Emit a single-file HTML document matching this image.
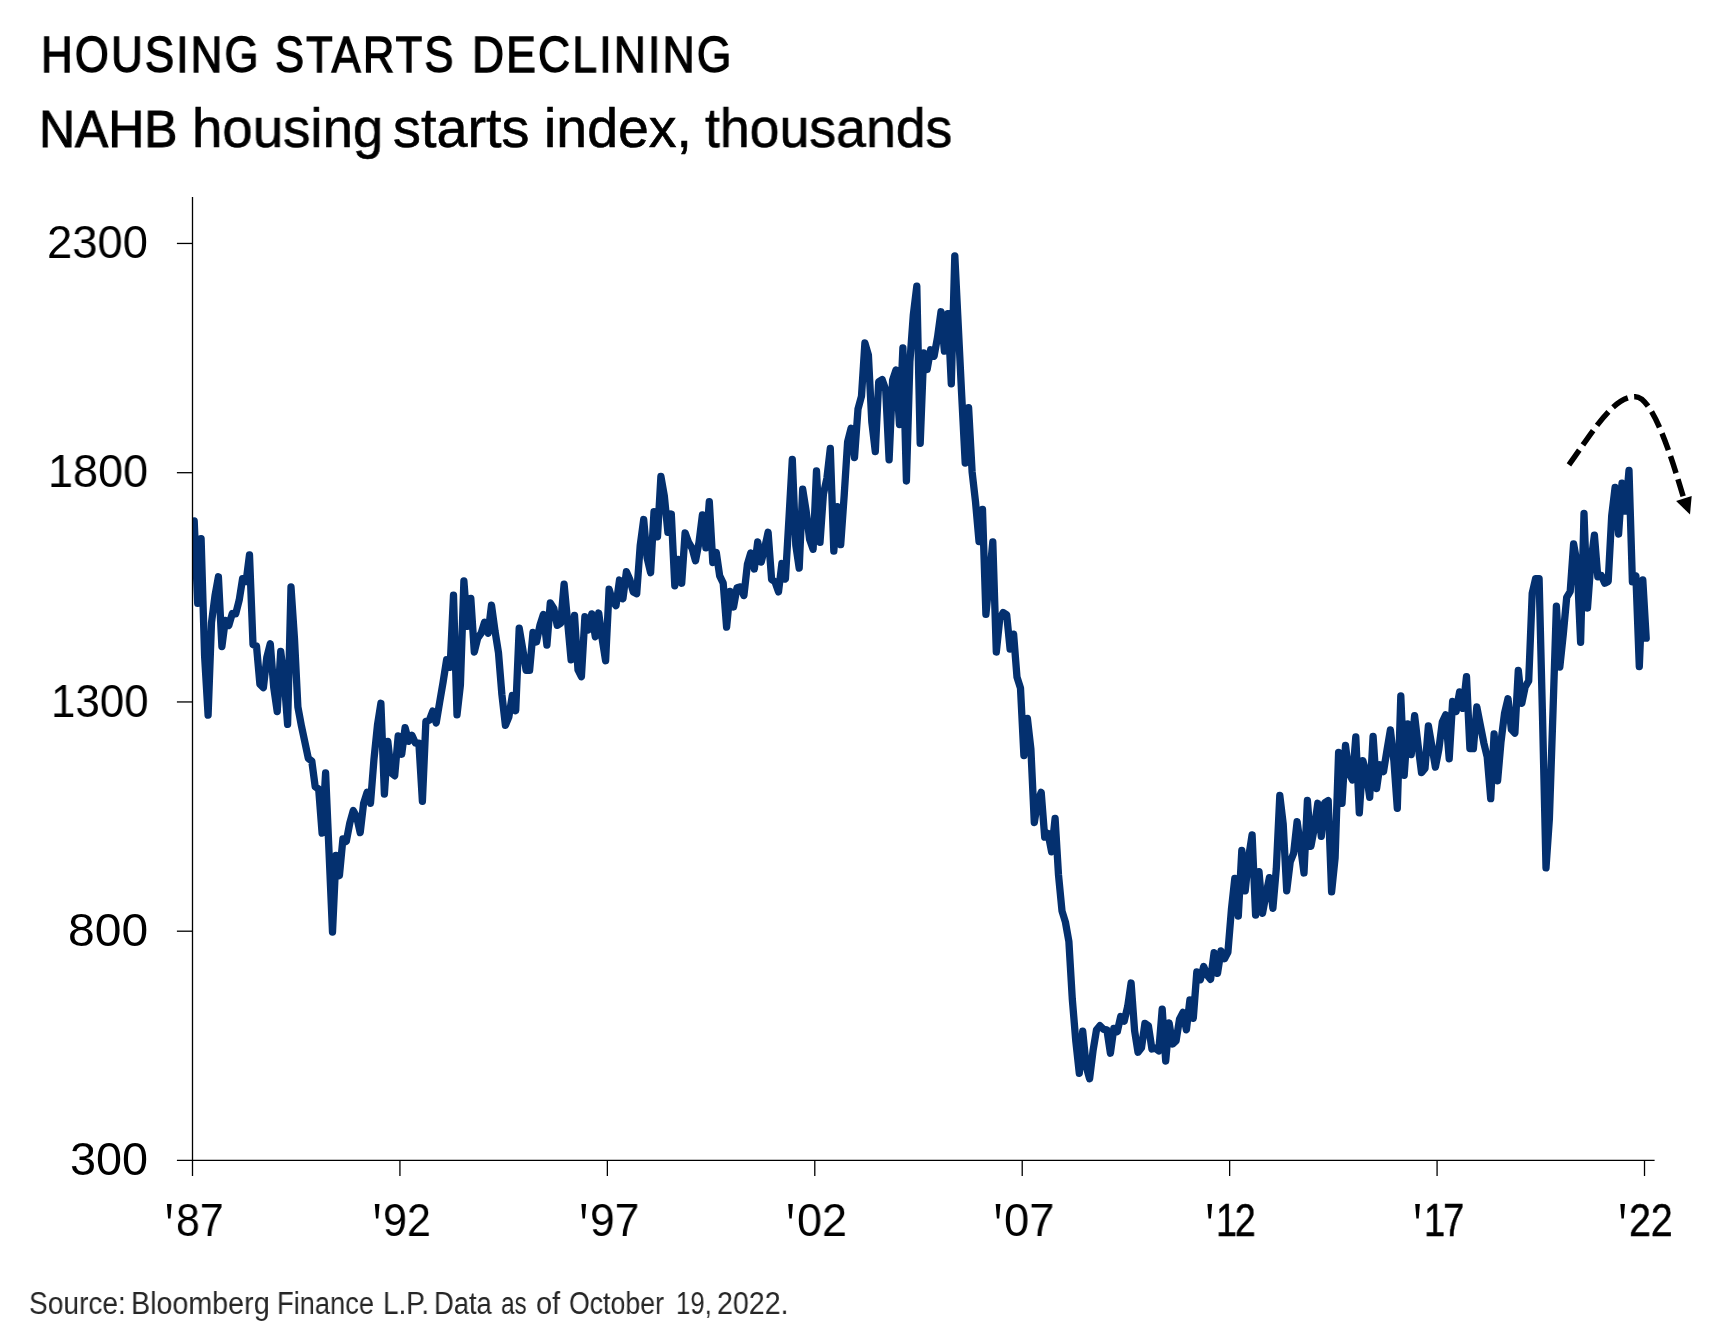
<!DOCTYPE html>
<html><head><meta charset="utf-8"><title>Housing Starts Declining</title>
<style>
html,body{margin:0;padding:0;background:#fff;}
body{width:1728px;height:1344px;position:relative;overflow:hidden;font-family:"Liberation Sans",sans-serif;}
.t{position:absolute;white-space:nowrap;line-height:1;transform-origin:0 0;will-change:transform;font-family:"Liberation Sans",sans-serif;}
svg{position:absolute;left:0;top:0;}
</style></head><body>
<svg width="1728" height="1344" viewBox="0 0 1728 1344">
<defs><clipPath id="plot"><rect x="192.5" y="190" width="1500" height="975"/></clipPath></defs>
<polyline clip-path="url(#plot)" points="194.2,520.8 197.7,603.4 201.1,538.7 204.6,656.1 208.1,715.2 211.5,622.6 215.0,595.6 218.4,576.8 221.9,646.5 225.3,620.3 228.8,625.4 232.3,613.5 235.7,613.9 239.2,600.2 242.6,578.6 246.1,581.4 249.5,554.8 253.0,644.6 256.5,646.0 259.9,684.1 263.4,687.7 266.8,657.5 270.3,643.7 273.7,687.3 277.2,711.6 280.7,651.5 284.1,678.6 287.6,724.4 291.0,586.9 294.5,639.1 297.9,707.0 301.4,725.8 304.9,742.3 308.3,758.3 311.8,761.1 315.2,786.8 318.7,789.1 322.1,833.1 325.6,773.0 329.1,853.7 332.5,932.1 336.0,855.5 339.4,875.7 342.9,839.0 346.3,841.3 349.8,823.0 353.3,810.6 356.7,817.0 360.2,832.6 363.6,803.3 367.1,792.3 370.5,803.3 374.0,758.8 377.5,724.9 380.9,703.3 384.4,794.1 387.8,741.4 391.3,773.0 394.7,775.8 398.2,735.9 401.7,754.2 405.1,727.6 408.6,741.4 412.0,735.4 415.5,743.2 418.9,743.2 422.4,801.4 425.9,721.2 429.3,720.3 432.8,711.1 436.2,723.0 439.7,702.0 443.1,682.2 446.6,659.8 450.1,667.1 453.5,595.1 457.0,714.8 460.4,685.0 463.9,580.9 467.3,626.3 470.8,598.3 474.3,652.0 477.7,638.2 481.2,633.2 484.6,622.2 488.1,633.2 491.5,605.2 495.0,630.9 498.5,652.9 501.9,694.6 505.4,725.3 508.8,717.1 512.3,695.5 515.7,710.7 519.2,628.1 522.7,648.8 526.1,670.3 529.6,670.3 533.0,632.3 536.5,641.9 539.9,625.4 543.4,614.4 546.9,645.1 550.3,602.9 553.8,608.4 557.2,625.4 560.7,623.1 564.1,584.1 567.6,621.7 571.1,659.8 574.5,615.3 578.0,669.9 581.4,676.7 584.9,616.7 588.3,630.0 591.8,613.9 595.3,636.8 598.7,613.0 602.2,639.1 605.6,660.7 609.1,589.2 612.5,601.1 616.0,605.7 619.5,580.0 622.9,598.8 626.4,571.7 629.8,579.5 633.3,591.9 636.7,593.7 640.2,545.6 643.7,519.5 647.1,558.0 650.6,572.7 654.0,511.7 657.5,536.9 660.9,476.4 664.4,496.5 667.9,532.3 671.3,514.0 674.8,585.9 678.2,559.4 681.7,583.2 685.1,532.8 688.6,542.4 692.1,548.4 695.5,560.7 699.0,542.4 702.4,514.9 705.9,547.9 709.3,501.6 712.8,562.6 716.3,552.5 719.7,575.9 723.2,583.2 726.6,627.2 730.1,591.5 733.5,607.0 737.0,587.8 740.5,586.9 743.9,595.6 747.4,564.4 750.8,552.9 754.3,569.0 757.7,541.9 761.2,562.1 764.7,547.9 768.1,532.3 771.6,579.5 775.0,581.8 778.5,591.9 781.9,563.5 785.4,579.1 788.9,519.5 792.3,459.4 795.8,545.1 799.2,568.1 802.7,489.2 806.1,510.8 809.6,539.2 813.1,549.3 816.5,470.9 820.0,542.4 823.4,494.2 826.9,478.2 830.3,448.4 833.8,551.1 837.3,506.6 840.7,544.7 844.2,495.2 847.6,442.0 851.1,428.2 854.5,457.6 858.0,409.0 861.5,396.1 864.9,342.9 868.4,354.9 871.8,421.8 875.3,451.6 878.7,381.9 882.2,379.6 885.7,389.7 889.1,459.9 892.6,380.1 896.0,370.0 899.5,424.6 902.9,348.0 906.4,481.0 909.9,361.7 913.3,315.0 916.8,286.1 920.2,443.4 923.7,353.0 927.1,369.5 930.6,349.8 934.1,356.2 937.5,337.4 941.0,311.8 944.4,351.2 947.9,313.6 951.3,383.8 954.8,255.8 958.3,326.4 961.7,395.2 965.2,463.1 968.6,407.6 972.1,471.8 975.5,501.6 979.0,541.5 982.5,509.4 985.9,614.4 989.4,578.2 992.8,541.9 996.3,652.0 999.7,619.4 1003.2,612.5 1006.7,614.8 1010.1,649.2 1013.6,634.1 1017.0,677.2 1020.5,688.2 1023.9,755.6 1027.4,718.5 1030.9,749.2 1034.3,822.5 1037.8,801.0 1041.2,792.3 1044.7,837.2 1048.1,833.5 1051.6,851.9 1055.1,818.4 1058.5,874.8 1062.0,911.0 1065.4,922.0 1068.9,941.7 1072.3,999.1 1075.8,1041.2 1079.3,1073.3 1082.7,1031.2 1086.2,1066.5 1089.6,1078.8 1093.1,1050.4 1096.5,1029.8 1100.0,1025.7 1103.5,1029.3 1106.9,1029.8 1110.4,1053.2 1113.8,1028.4 1117.3,1031.6 1120.7,1016.5 1124.2,1021.1 1127.7,1006.4 1131.1,983.0 1134.6,1030.7 1138.0,1052.2 1141.5,1047.7 1144.9,1023.4 1148.4,1025.7 1151.9,1049.0 1155.3,1048.1 1158.8,1050.9 1162.2,1009.1 1165.7,1061.0 1169.1,1022.9 1172.6,1044.0 1176.1,1040.8 1179.5,1019.2 1183.0,1012.4 1186.4,1029.8 1189.9,1000.0 1193.3,1018.3 1196.8,972.0 1200.3,979.8 1203.7,966.5 1207.2,975.2 1210.6,979.3 1214.1,952.7 1217.5,973.4 1221.0,950.9 1224.5,958.7 1227.9,952.3 1231.4,909.7 1234.8,878.5 1238.3,916.1 1241.8,850.5 1245.2,890.9 1248.7,856.9 1252.1,834.9 1255.6,915.2 1259.0,871.6 1262.5,913.3 1266.0,894.5 1269.4,877.6 1272.9,908.3 1276.3,868.8 1279.8,795.5 1283.2,823.9 1286.7,890.9 1290.2,862.0 1293.6,853.3 1297.1,821.6 1300.5,845.9 1304.0,873.0 1307.4,800.5 1310.9,846.4 1314.4,827.6 1317.8,803.3 1321.3,836.3 1324.7,802.8 1328.2,800.5 1331.6,891.8 1335.1,857.8 1338.6,752.4 1342.0,803.3 1345.5,745.5 1348.9,772.6 1352.4,779.9 1355.8,736.8 1359.3,812.9 1362.8,760.6 1366.2,772.6 1369.7,797.3 1373.1,736.3 1376.6,788.6 1380.0,764.8 1383.5,771.6 1387.0,750.1 1390.4,729.9 1393.9,761.1 1397.3,808.3 1400.8,696.0 1404.2,775.3 1407.7,724.0 1411.2,754.7 1414.6,715.7 1418.1,745.5 1421.5,772.6 1425.0,768.4 1428.4,725.8 1431.9,746.4 1435.4,767.1 1438.8,749.6 1442.3,722.1 1445.7,714.8 1449.2,758.8 1452.6,701.5 1456.1,711.6 1459.6,691.9 1463.0,708.4 1466.5,676.7 1469.9,748.7 1473.4,748.7 1476.8,707.0 1480.3,724.9 1483.8,742.8 1487.2,757.0 1490.7,798.7 1494.1,734.0 1497.6,780.8 1501.0,741.8 1504.5,713.4 1508.0,698.7 1511.4,729.5 1514.9,733.1 1518.3,670.3 1521.8,703.3 1525.2,686.8 1528.7,680.9 1532.2,593.3 1535.6,578.6 1539.1,578.6 1542.5,716.2 1546.0,867.9 1549.4,818.4 1552.9,714.3 1556.4,606.1 1559.8,667.1 1563.3,634.1 1566.7,597.4 1570.2,591.5 1573.6,543.8 1577.1,563.5 1580.6,642.3 1584.0,513.5 1587.5,608.0 1590.9,562.1 1594.4,535.1 1597.8,576.8 1601.3,575.4 1604.8,583.2 1608.2,581.4 1611.7,515.8 1615.1,487.4 1618.6,534.1 1622.0,483.2 1625.5,511.2 1629.0,470.4 1632.4,581.8 1635.9,575.9 1639.3,666.6 1642.8,580.0 1646.2,638.2" fill="none" stroke="#04306f" stroke-width="7.3" stroke-linejoin="round" stroke-linecap="round"/>
<line x1="192.50" y1="197" x2="192.50" y2="1176" stroke="#000" stroke-width="1.3"/>
<line x1="176.9" y1="1160.45" x2="1654.6" y2="1160.45" stroke="#000" stroke-width="1.3"/>
<line x1="176.9" y1="243.45" x2="192.50" y2="243.45" stroke="#000" stroke-width="1.3"/>
<line x1="176.9" y1="472.70" x2="192.50" y2="472.70" stroke="#000" stroke-width="1.3"/>
<line x1="176.9" y1="701.95" x2="192.50" y2="701.95" stroke="#000" stroke-width="1.3"/>
<line x1="176.9" y1="931.20" x2="192.50" y2="931.20" stroke="#000" stroke-width="1.3"/>
<line x1="399.93" y1="1160.45" x2="399.93" y2="1176" stroke="#000" stroke-width="1.3"/>
<line x1="607.36" y1="1160.45" x2="607.36" y2="1176" stroke="#000" stroke-width="1.3"/>
<line x1="814.79" y1="1160.45" x2="814.79" y2="1176" stroke="#000" stroke-width="1.3"/>
<line x1="1022.22" y1="1160.45" x2="1022.22" y2="1176" stroke="#000" stroke-width="1.3"/>
<line x1="1229.65" y1="1160.45" x2="1229.65" y2="1176" stroke="#000" stroke-width="1.3"/>
<line x1="1437.08" y1="1160.45" x2="1437.08" y2="1176" stroke="#000" stroke-width="1.3"/>
<line x1="1644.51" y1="1160.45" x2="1644.51" y2="1176" stroke="#000" stroke-width="1.3"/>
<polygon points="166.9,1204 171.6,1204 170.4,1218.4 168.1,1218.4" fill="#000"/>
<polygon points="374.8,1204 379.5,1204 378.3,1218.4 376.0,1218.4" fill="#000"/>
<polygon points="581.4,1204 586.1,1204 584.9,1218.4 582.6,1218.4" fill="#000"/>
<polygon points="788.2,1204 792.9,1204 791.7,1218.4 789.4,1218.4" fill="#000"/>
<polygon points="995.7,1204 1000.4,1204 999.2,1218.4 996.9,1218.4" fill="#000"/>
<polygon points="1207.4,1204 1212.1,1204 1210.9,1218.4 1208.6,1218.4" fill="#000"/>
<polygon points="1415.2,1204 1419.9,1204 1418.7,1218.4 1416.4,1218.4" fill="#000"/>
<polygon points="1620.3,1204 1625.0,1204 1623.8,1218.4 1621.5,1218.4" fill="#000"/>
<path d="M1568.95,464.8 C1593,431.5 1612.7,396.7 1635.4,396.7 C1655.9,396.7 1678.9,483.8 1683.9,498.6" fill="none" stroke="#000" stroke-width="5.5" stroke-dasharray="17.7 6.45"/>
<polygon points="1676.1,501.1 1691.7,496.1 1690,514.5" fill="#000"/>
</svg>
<div class="t" style="left:40.69px;top:30.12px;font-size:50.3px;transform:scaleX(0.8713);letter-spacing:2.5px;color:#000;-webkit-text-stroke:1.3px #000;">HOUSING</div>
<div class="t" style="left:275.07px;top:30.12px;font-size:50.3px;transform:scaleX(0.865);letter-spacing:2.5px;color:#000;-webkit-text-stroke:1.3px #000;">STARTS</div>
<div class="t" style="left:472.15px;top:30.12px;font-size:50.3px;transform:scaleX(0.8823);letter-spacing:2.5px;color:#000;-webkit-text-stroke:1.3px #000;">DECLINING</div>
<div class="t" style="left:39.47px;top:103.28px;font-size:52px;transform:scaleX(0.9587);letter-spacing:0px;color:#000;-webkit-text-stroke:1px #000;">NAHB</div>
<div class="t" style="left:191.92px;top:100.94px;font-size:55px;transform:scaleX(0.993);letter-spacing:0px;color:#000;-webkit-text-stroke:0.6px #000;">housing</div>
<div class="t" style="left:393.49px;top:100.94px;font-size:55px;transform:scaleX(1.0144);letter-spacing:0px;color:#000;-webkit-text-stroke:0.6px #000;">starts</div>
<div class="t" style="left:543.58px;top:100.94px;font-size:55px;transform:scaleX(1.0079);letter-spacing:0px;color:#000;-webkit-text-stroke:0.6px #000;">index,</div>
<div class="t" style="left:704.9px;top:100.94px;font-size:55px;transform:scaleX(0.9746);letter-spacing:0px;color:#000;-webkit-text-stroke:0.6px #000;">thousands</div>
<div class="t" style="left:47.22px;top:219.93px;font-size:45.8px;transform:scaleX(0.9898);letter-spacing:0px;color:#000;">2300</div>
<div class="t" style="left:48.26px;top:449.23px;font-size:45.8px;transform:scaleX(0.9814);letter-spacing:0px;color:#000;">1800</div>
<div class="t" style="left:50.53px;top:678.63px;font-size:45.8px;transform:scaleX(0.9567);letter-spacing:0px;color:#000;">1300</div>
<div class="t" style="left:67.6px;top:907.83px;font-size:45.8px;transform:scaleX(1.0479);letter-spacing:0px;color:#000;">800</div>
<div class="t" style="left:69.76px;top:1136.63px;font-size:45.8px;transform:scaleX(1.0219);letter-spacing:0px;color:#000;">300</div>
<div class="t" style="left:175.83px;top:1198.43px;font-size:45.8px;transform:scaleX(0.934);letter-spacing:0px;color:#000;">87</div>
<div class="t" style="left:383.32px;top:1198.43px;font-size:45.8px;transform:scaleX(0.9404);letter-spacing:0px;color:#000;">92</div>
<div class="t" style="left:589.86px;top:1198.43px;font-size:45.8px;transform:scaleX(0.9681);letter-spacing:0px;color:#000;">97</div>
<div class="t" style="left:796.64px;top:1198.43px;font-size:45.8px;transform:scaleX(0.9809);letter-spacing:0px;color:#000;">02</div>
<div class="t" style="left:1004.12px;top:1198.43px;font-size:45.8px;transform:scaleX(0.9894);letter-spacing:0px;color:#000;">07</div>
<div class="t" style="left:1216.15px;top:1198.23px;font-size:45.8px;transform:scaleX(0.8182);letter-spacing:-2.5px;color:#000;-webkit-text-stroke:0.5px #000;">12</div>
<div class="t" style="left:1423.61px;top:1198.23px;font-size:45.8px;transform:scaleX(0.8295);letter-spacing:-2.5px;color:#000;-webkit-text-stroke:0.5px #000;">17</div>
<div class="t" style="left:1629.29px;top:1198.23px;font-size:45.8px;transform:scaleX(0.8574);letter-spacing:0px;color:#000;-webkit-text-stroke:0.5px #000;">22</div>
<div class="t" style="left:29.09px;top:1288.36px;font-size:31px;transform:scaleX(0.9059);letter-spacing:0px;color:#262626;">Source:</div>
<div class="t" style="left:131.03px;top:1288.36px;font-size:31px;transform:scaleX(0.9248);letter-spacing:0px;color:#262626;">Bloomberg</div>
<div class="t" style="left:276.96px;top:1288.36px;font-size:31px;transform:scaleX(0.8802);letter-spacing:0px;color:#262626;">Finance</div>
<div class="t" style="left:383.09px;top:1288.36px;font-size:31px;transform:scaleX(0.9022);letter-spacing:0px;color:#262626;">L.P.</div>
<div class="t" style="left:433.86px;top:1288.36px;font-size:31px;transform:scaleX(0.881);letter-spacing:0px;color:#262626;">Data</div>
<div class="t" style="left:501.12px;top:1288.36px;font-size:31px;transform:scaleX(0.7839);letter-spacing:0px;color:#262626;">as</div>
<div class="t" style="left:536.27px;top:1288.36px;font-size:31px;transform:scaleX(0.932);letter-spacing:0px;color:#262626;">of</div>
<div class="t" style="left:569.14px;top:1288.36px;font-size:31px;transform:scaleX(0.8606);letter-spacing:0px;color:#262626;">October</div>
<div class="t" style="left:676.04px;top:1288.36px;font-size:31px;transform:scaleX(0.8316);letter-spacing:0px;color:#262626;">19,</div>
<div class="t" style="left:716.66px;top:1288.36px;font-size:31px;transform:scaleX(0.9219);letter-spacing:0px;color:#262626;">2022.</div>
</body></html>
